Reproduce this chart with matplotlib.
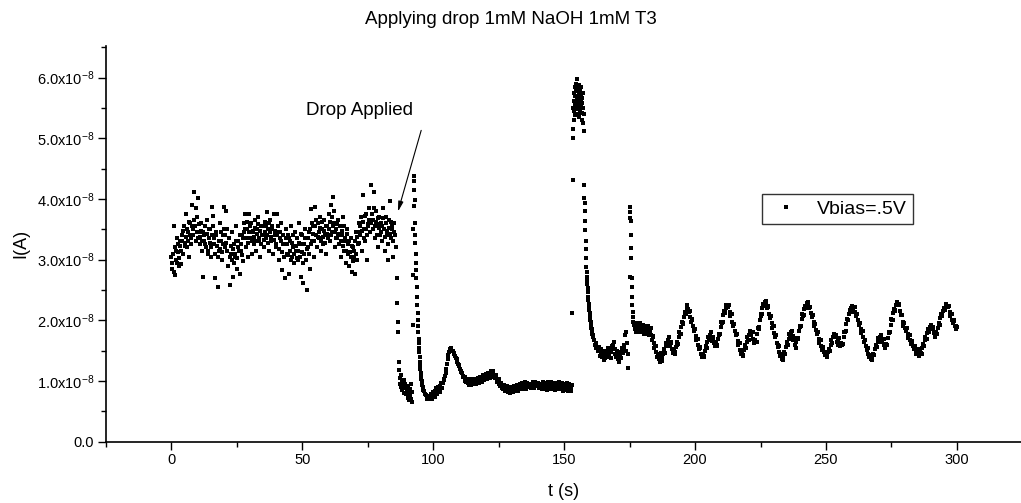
import numpy as np
import matplotlib
matplotlib.use("Agg")
import matplotlib.pyplot as plt
from matplotlib.ticker import MultipleLocator, FuncFormatter

plt.rcParams['font.family'] = ['Liberation Sans', 'DejaVu Sans']
plt.rcParams['mathtext.fontset'] = 'custom'
plt.rcParams['mathtext.rm'] = 'Liberation Sans'
plt.rcParams['mathtext.it'] = 'Liberation Sans:italic'

# ---------------- data (current in units of 1e-8 A) ----------------
UNIT = 1e-8

# baseline noise before the drop, t0=0, dt=0.4 s
noise_t0, noise_dt = 0.0, 0.4
noise_I = [
    3.05, 2.85, 3.56, 2.75, 3.15, 2.95, 3.25, 3.02, 3.30, 2.92,
    3.40, 3.10, 3.55, 3.28, 3.76, 3.20, 3.45, 3.05, 3.60, 3.35,
    3.90, 3.50, 4.12, 3.30, 3.70, 4.02, 3.45, 3.25, 3.60, 3.15,
    2.72, 3.40, 3.55, 3.20, 3.65, 3.10, 3.35, 3.50, 3.05, 3.86,
    3.72, 3.25, 2.69, 3.45, 2.55, 3.15, 3.60, 3.30, 3.00, 3.40,
    3.87, 3.20, 3.80, 3.50, 2.90, 3.35, 2.58, 3.10, 3.45, 2.72,
    3.25, 3.05, 3.55, 2.85, 3.30, 2.77, 3.15, 3.40, 2.97, 3.60,
    3.76, 3.20, 3.50, 3.05, 3.76, 3.35, 3.60, 3.10, 3.45, 3.25,
    3.65, 3.15, 3.50, 3.70, 3.30, 3.05, 3.55, 3.40, 3.20, 3.62,
    3.35, 3.79, 3.50, 3.15, 3.65, 3.30, 3.55, 3.10, 3.75, 3.40,
    3.20, 3.76, 3.45, 3.00, 3.35, 3.60, 2.83, 3.25, 2.69, 3.50,
    3.10, 3.40, 2.77, 3.30, 3.55, 3.05, 3.20, 2.95, 3.45, 3.15,
    3.35, 3.00, 3.60, 3.25, 2.72, 3.40, 2.61, 3.10, 3.50, 2.50,
    3.20, 3.45, 2.85, 3.84, 3.30, 3.55, 3.05, 3.87, 3.40, 3.20,
    3.60, 3.35, 3.70, 3.15, 3.50, 3.25, 3.65, 3.40, 3.10, 3.55,
    3.75, 3.30, 3.90, 3.45, 4.04, 3.60, 3.20, 3.50, 3.35, 3.65,
    3.25, 3.55, 3.05, 3.40, 3.70, 3.15, 3.30, 2.95, 3.50, 3.10,
    2.90, 3.35, 2.80, 3.20, 3.05, 2.77, 3.45, 3.00, 3.25, 3.60,
    3.40, 3.70, 3.15, 4.06, 3.50, 3.30, 3.75, 3.00, 3.55, 3.85,
    3.45, 4.23, 3.65, 4.12, 3.35, 3.80, 3.55, 3.20, 3.70, 3.40,
    3.60, 3.30, 3.85, 3.50, 3.15, 3.70, 3.40, 3.00, 3.65, 3.97,
    3.35, 3.55, 3.05, 3.45, 3.20,
]
# interleaved noise samples, t0=0.2, dt=0.4 s
noise2_t0, noise2_dt = 0.2, 0.4
noise2_I = [
    2.95, 3.10, 2.80, 3.20, 3.00, 3.35, 3.12, 2.90, 3.22, 3.15,
    3.30, 3.48, 3.22, 3.38, 3.50, 3.30, 3.62, 3.40, 3.25, 3.55,
    3.40, 3.65, 3.55, 3.85, 3.45, 3.35, 3.58, 3.38, 3.48, 3.30,
    3.45, 3.30, 3.25, 3.42, 3.15, 3.50, 3.28, 3.20, 3.40, 3.55,
    3.35, 3.10, 3.40, 3.22, 3.05, 3.30, 3.18, 3.45, 3.12, 3.25,
    3.50, 3.40, 3.28, 3.15, 3.35, 3.05, 3.22, 3.00, 3.18, 2.95,
    3.10, 3.30, 3.02, 3.20, 3.15, 3.40, 3.25, 3.08, 3.35, 3.45,
    3.50, 3.35, 3.62, 3.28, 3.45, 3.55, 3.30, 3.48, 3.38, 3.52,
    3.30, 3.42, 3.58, 3.35, 3.48, 3.25, 3.40, 3.55, 3.32, 3.45,
    3.55, 3.40, 3.28, 3.60, 3.45, 3.38, 3.50, 3.32, 3.48, 3.25,
    3.40, 3.55, 3.18, 3.45, 3.30, 3.12, 3.40, 3.05, 3.25, 3.35,
    3.25, 3.08, 3.35, 3.15, 3.00, 3.28, 3.40, 3.10, 3.22, 3.02,
    3.15, 3.28, 3.05, 3.42, 3.12, 2.95, 3.25, 3.35, 3.00, 3.18,
    3.35, 3.10, 3.50, 3.25, 3.60, 3.42, 3.30, 3.55, 3.65, 3.38,
    3.45, 3.52, 3.30, 3.62, 3.38, 3.48, 3.28, 3.55, 3.42, 3.35,
    3.50, 3.62, 3.40, 3.70, 3.55, 3.80, 3.45, 3.35, 3.58, 3.42,
    3.40, 3.30, 3.48, 3.22, 3.55, 3.35, 3.15, 3.42, 3.25, 3.30,
    3.12, 3.05, 3.22, 2.98, 3.15, 3.30, 3.10, 3.38, 3.45, 3.28,
    3.55, 3.48, 3.62, 3.35, 3.72, 3.50, 3.40, 3.58, 3.65, 3.45,
    3.60, 3.75, 3.50, 3.85, 3.55, 3.62, 3.40, 3.68, 3.52, 3.58,
    3.45, 3.55, 3.68, 3.38, 3.60, 3.48, 3.25, 3.52, 3.42, 3.62,
    3.50, 3.30, 3.60, 3.40,
]

# drop applied, t0=86.0, dt=0.2
drop_t0, drop_dt = 86.0, 0.2
drop_I = [2.69, 2.28, 1.98, 1.81, 1.32, 1.18]

# low cluster after drop, t0=87.2, dt=0.2
low_t0, low_dt = 87.2, 0.2
low_I = [1.05, 0.95, 1.10, 0.90, 1.00, 0.85, 0.98, 0.92, 0.80, 1.02,
         0.88, 0.95, 0.78, 0.90, 0.85, 0.72, 0.92, 0.80, 0.68, 0.86,
         0.75, 0.95, 0.70, 0.82, 0.66]

# second spike, t0=92.2, dt=0.1
spike2_t0, spike2_dt = 92.2, 0.1
spike2_I = [1.92, 2.75, 3.50, 3.88, 4.15, 4.37, 4.30, 3.98, 3.60, 3.40,
            3.27, 3.10, 2.95, 2.83, 2.70, 2.55, 2.39, 2.25, 2.12, 2.00,
            1.90, 1.80, 1.70, 1.62, 1.55, 1.47, 1.40, 1.32, 1.25, 1.19,
            1.14, 1.10, 1.06, 1.03, 1.00, 0.97, 0.94]

# recovery and flat part, t0=96.0, dt=0.5
recov_t0, recov_dt = 96.0, 0.5
recov_I = [
    0.90, 0.83, 0.79, 0.72, 0.74, 0.70, 0.78, 0.71, 0.82, 0.74,
    0.88, 0.78, 0.90, 0.82, 0.96, 0.88, 1.02, 1.08, 1.20, 1.36,
    1.48, 1.53, 1.50, 1.49, 1.45, 1.41, 1.36, 1.28, 1.25, 1.16,
    1.14, 1.06, 1.06, 0.98,
    1.04, 0.94, 1.03, 0.94, 1.04, 0.95, 1.04, 0.95, 1.05, 0.96,
    1.07, 0.98, 1.10, 1.01, 1.12, 1.03, 1.14, 1.05, 1.16, 1.07,
    1.16, 1.05, 1.10, 0.98, 1.03, 0.91, 0.97, 0.87, 0.93, 0.84,
    0.92, 0.82, 0.90, 0.81, 0.90, 0.82, 0.91, 0.83, 0.94, 0.84,
    0.95, 0.86, 0.97, 0.87, 0.98, 0.87, 0.97, 0.90, 0.95, 0.89,
    0.99, 0.88, 0.99, 0.91, 0.96, 0.88, 0.95, 0.87, 0.99, 0.87,
    0.97, 0.85, 0.98, 0.87, 0.99, 0.86, 0.96, 0.85, 0.97, 0.86,
    0.98, 0.86, 0.96, 0.84, 0.95, 0.85, 0.97, 0.84, 0.95, 0.84,
    0.93,
]
# interleaved recovery samples, t0=96.25, dt=0.5
recov2_t0, recov2_dt = 96.25, 0.5
recov2_I = [
    0.85, 0.78, 0.77, 0.71, 0.76, 0.73, 0.72, 0.78, 0.76, 0.83,
    0.80, 0.86, 0.84, 0.91, 0.89, 0.96, 1.03, 1.14, 1.28, 1.43,
    1.52, 1.54, 1.49, 1.46, 1.42, 1.38, 1.31, 1.27, 1.19, 1.15,
    1.09, 1.07, 1.00, 1.01,
    0.97, 1.01, 0.96, 1.01, 0.97, 1.02, 0.98, 1.03, 0.99, 1.04,
    1.01, 1.06, 1.04, 1.09, 1.06, 1.11, 1.08, 1.13, 1.10, 1.14,
    1.09, 1.10, 1.02, 1.03, 0.95, 0.96, 0.89, 0.92, 0.86, 0.89,
    0.84, 0.88, 0.83, 0.87, 0.84, 0.88, 0.85, 0.90, 0.87, 0.92,
    0.88, 0.94, 0.89, 0.95, 0.90, 0.94, 0.92, 0.93, 0.91, 0.95,
    0.92, 0.96, 0.93, 0.95, 0.90, 0.93, 0.90, 0.94, 0.91, 0.94,
    0.89, 0.93, 0.90, 0.95, 0.90, 0.93, 0.88, 0.93, 0.89, 0.94,
    0.90, 0.93, 0.88, 0.92, 0.88, 0.93, 0.88, 0.92, 0.87, 0.90,
]

# big spike, t0=153.1, dt=0.1
spike3_t0, spike3_dt = 153.1, 0.1
spike3_I = [
    2.12, 4.31, 5.01, 5.16,
    5.50, 5.62, 5.30, 5.75, 5.45, 5.85, 5.55, 5.38, 5.70, 5.60,
    5.90, 5.48, 5.78, 5.97, 5.65, 5.52, 5.82, 5.40, 5.70, 5.58,
    5.88, 5.62, 5.35, 5.75, 5.50, 5.68, 5.80, 5.45, 5.60, 5.72,
    5.55, 5.85, 5.42, 5.66, 5.30, 5.58, 5.75, 5.25, 5.50, 5.40,
    5.12, 4.23, 4.01, 3.93, 3.80, 3.63, 3.49, 3.30, 3.17, 3.02,
    2.88, 2.80, 2.72, 2.67, 2.60, 2.53, 2.46, 2.39, 2.33, 2.27,
    2.22, 2.17, 2.12, 2.08, 2.04, 2.00, 1.97, 1.94, 1.91, 1.88,
    1.85, 1.83, 1.80, 1.78, 1.76, 1.74, 1.72,
]

# after big spike, t0=161.5, dt=0.5
mid_t0, mid_dt = 161.5, 0.5
mid_I = [1.68, 1.62, 1.56, 1.52, 1.49, 1.45, 1.40, 1.48, 1.38, 1.45,
         1.50, 1.42, 1.55, 1.47, 1.60, 1.65, 1.52, 1.45, 1.38, 1.32,
         1.42, 1.50, 1.46, 1.56, 1.81, 1.62, 1.22]
mid2_t0, mid2_dt = 161.75, 0.5
mid2_I = [1.60, 1.55, 1.50, 1.56, 1.42, 1.52, 1.44, 1.35, 1.50, 1.40,
          1.55, 1.48, 1.38, 1.58, 1.52, 1.45, 1.40, 1.50, 1.36, 1.48,
          1.38, 1.55, 1.60, 1.75, 1.50, 1.45]

# third spike, t0=175.0, dt=0.1
spike4_t0, spike4_dt = 175.0, 0.1
spike4_I = [2.72, 3.87, 3.79, 3.68, 3.63, 3.41, 3.19, 3.02, 2.69, 2.55,
            2.39, 2.25, 2.14, 2.05, 1.97, 1.92]

# oscillating part, t0=177.0, dt=0.5
osc_t0, osc_dt = 177.0, 0.5
osc_I = [
    1.96, 1.80, 1.95, 1.80, 1.95, 1.80, 1.93, 1.77, 1.91, 1.77,
    1.91, 1.75, 1.87, 1.68, 1.74, 1.55, 1.58, 1.40, 1.45, 1.32,
    1.46, 1.33, 1.53, 1.46, 1.63, 1.58, 1.73, 1.59, 1.64, 1.46,
    1.52, 1.44, 1.64, 1.61, 1.80, 1.77, 1.98, 1.95, 2.13, 2.11,
    2.26, 2.13, 2.15, 1.97, 2.02, 1.83, 1.86, 1.67, 1.70, 1.52,
    1.56, 1.40, 1.45, 1.39, 1.58, 1.55, 1.72, 1.67, 1.81, 1.66,
    1.72, 1.57, 1.65, 1.57, 1.78, 1.77, 1.97, 1.97, 2.15, 2.13,
    2.26, 2.22, 2.25, 2.07, 2.10, 1.91, 1.94, 1.75, 1.78, 1.59,
    1.62, 1.44, 1.49, 1.41, 1.59, 1.55, 1.72, 1.67, 1.82, 1.76,
    1.81, 1.62, 1.67, 1.65, 1.88, 1.89, 2.10, 2.10, 2.27, 2.24,
    2.32, 2.20, 2.22, 2.04, 2.07, 1.88, 1.91, 1.72, 1.75, 1.56,
    1.58, 1.41, 1.44, 1.34, 1.47, 1.45, 1.64, 1.60, 1.77, 1.72,
    1.83, 1.67, 1.68, 1.54, 1.71, 1.71, 1.91, 1.91, 2.10, 2.09,
    2.24, 2.21, 2.30, 2.20, 2.22, 2.05, 2.08, 1.91, 1.94, 1.77,
    1.80, 1.63, 1.67, 1.51, 1.56, 1.43, 1.48, 1.40, 1.52, 1.50,
    1.67, 1.63, 1.78, 1.72, 1.74, 1.59, 1.71, 1.57, 1.61, 1.61,
    1.81, 1.82, 2.02, 2.01, 2.17, 2.14, 2.24, 2.20, 2.22, 2.07,
    2.10, 1.93, 1.96, 1.79, 1.82, 1.65, 1.68, 1.51, 1.55, 1.39,
    1.43, 1.34, 1.45, 1.43, 1.60, 1.56, 1.71, 1.65, 1.76, 1.65,
    1.69, 1.55, 1.61, 1.59, 1.80, 1.81, 2.02, 2.01, 2.19, 2.17,
    2.30, 2.25, 2.26, 2.08, 2.08, 1.91, 1.96, 1.83, 1.87, 1.71,
    1.76, 1.61, 1.66, 1.52, 1.58, 1.45, 1.52, 1.42, 1.50, 1.45,
    1.61, 1.57, 1.73, 1.69, 1.85, 1.80, 1.93, 1.86, 1.88, 1.73,
    1.80, 1.77, 1.95, 1.93, 2.10, 2.08, 2.21, 2.17, 2.27, 2.22,
    2.24, 2.07, 2.11, 1.95, 2.00, 1.85, 1.89,
]
# interleaved oscillation samples, t0=177.25, dt=0.5
osc2_t0, osc2_dt = 177.25, 0.5
osc2_I = [
    1.86, 1.90, 1.86, 1.89, 1.85, 1.88, 1.84, 1.87, 1.83, 1.86,
    1.81, 1.83, 1.76, 1.73, 1.62, 1.58, 1.47, 1.45, 1.36, 1.40,
    1.38, 1.44, 1.48, 1.57, 1.59, 1.67, 1.64, 1.63, 1.53, 1.51,
    1.47, 1.56, 1.60, 1.72, 1.77, 1.89, 1.94, 2.06, 2.10, 2.21,
    2.18, 2.15, 2.05, 2.01, 1.90, 1.86, 1.74, 1.70, 1.59, 1.55,
    1.45, 1.44, 1.41, 1.50, 1.54, 1.65, 1.67, 1.76, 1.73, 1.71,
    1.62, 1.62, 1.59, 1.69, 1.75, 1.89, 1.95, 2.08, 2.12, 2.21,
    2.22, 2.25, 2.14, 2.10, 1.98, 1.94, 1.82, 1.78, 1.66, 1.62,
    1.51, 1.48, 1.43, 1.51, 1.55, 1.65, 1.67, 1.76, 1.77, 1.80,
    1.70, 1.67, 1.64, 1.78, 1.86, 2.01, 2.07, 2.20, 2.23, 2.31,
    2.26, 2.23, 2.11, 2.07, 1.95, 1.91, 1.79, 1.75, 1.63, 1.59,
    1.48, 1.45, 1.37, 1.41, 1.44, 1.56, 1.60, 1.70, 1.73, 1.80,
    1.74, 1.69, 1.59, 1.64, 1.69, 1.83, 1.89, 2.02, 2.07, 2.18,
    2.21, 2.28, 2.24, 2.22, 2.12, 2.08, 1.98, 1.94, 1.84, 1.80,
    1.70, 1.67, 1.57, 1.55, 1.47, 1.47, 1.42, 1.47, 1.50, 1.60,
    1.63, 1.72, 1.73, 1.75, 1.65, 1.67, 1.62, 1.62, 1.60, 1.72,
    1.80, 1.94, 2.00, 2.11, 2.14, 2.21, 2.20, 2.22, 2.13, 2.10,
    2.00, 1.96, 1.86, 1.82, 1.72, 1.68, 1.58, 1.55, 1.45, 1.43,
    1.36, 1.41, 1.43, 1.53, 1.56, 1.65, 1.66, 1.73, 1.70, 1.69,
    1.60, 1.60, 1.59, 1.71, 1.79, 1.93, 2.00, 2.12, 2.16, 2.25,
    2.25, 2.27, 2.15, 2.09, 1.98, 1.95, 1.88, 1.87, 1.77, 1.75,
    1.67, 1.65, 1.57, 1.57, 1.50, 1.51, 1.45, 1.48, 1.46, 1.55,
    1.57, 1.67, 1.69, 1.79, 1.81, 1.89, 1.88, 1.89, 1.79, 1.79,
    1.77, 1.88, 1.92, 2.03, 2.07, 2.16, 2.17, 2.24, 2.23, 2.24,
    2.14, 2.11, 2.01, 1.99, 1.91, 1.90,
]

segments = [
    (noise_t0, noise_dt, noise_I),
    (noise2_t0, noise2_dt, noise2_I),
    (drop_t0, drop_dt, drop_I),
    (low_t0, low_dt, low_I),
    (spike2_t0, spike2_dt, spike2_I),
    (recov_t0, recov_dt, recov_I),
    (recov2_t0, recov2_dt, recov2_I),
    (spike3_t0, spike3_dt, spike3_I),
    (mid_t0, mid_dt, mid_I),
    (mid2_t0, mid2_dt, mid2_I),
    (spike4_t0, spike4_dt, spike4_I),
    (osc_t0, osc_dt, osc_I),
    (osc2_t0, osc2_dt, osc2_I),
]

t_all = np.concatenate([t0 + dt * np.arange(len(v)) for t0, dt, v in segments])
I_all = np.concatenate([np.asarray(v, dtype=float) for _, _, v in segments]) * UNIT
order = np.argsort(t_all, kind='stable')
t_all, I_all = t_all[order], I_all[order]

title = "Applying drop 1mM NaOH 1mM T3"
xlabel = "t (s)"
ylabel = "I(A)"
legend_label = "Vbias=.5V"
annot_text = "Drop Applied"
xticks = [0, 50, 100, 150, 200, 250, 300]

# ---------------- figure ----------------
fig = plt.figure(figsize=(10.21, 5.03), dpi=100)
ax = fig.add_axes([0.1038, 0.1219, 1.0 - 0.1038, 0.7866])

ax.plot(t_all, I_all, linestyle='none', marker='s', markersize=3.5,
        markeredgewidth=0, color='black', label=legend_label)

ax.set_xlim(-25, 324.5)
ax.set_ylim(0, 6.52e-8)

ax.set_xticks(xticks)
ax.xaxis.set_minor_locator(MultipleLocator(25))
ax.yaxis.set_major_locator(MultipleLocator(1e-8))
ax.yaxis.set_minor_locator(MultipleLocator(0.5e-8))


def yfmt(v, pos):
    m = v / 1e-8
    if abs(m) < 1e-9:
        return "0.0"
    return "%.1fx10$^{-8}$" % m


ax.yaxis.set_major_formatter(FuncFormatter(yfmt))

for side in ('top', 'right'):
    ax.spines[side].set_visible(False)
for side in ('left', 'bottom'):
    ax.spines[side].set_linewidth(1.2)

ax.tick_params(axis='both', which='major', direction='out', length=5.5,
               width=1.0, labelsize=10.5, pad=3)
ax.tick_params(axis='both', which='minor', direction='out', length=3.5,
               width=1.0)

ax.set_xlabel(xlabel, fontsize=13, labelpad=11.5)
ax.set_ylabel(ylabel, fontsize=13, labelpad=5)

fig.text(0.5, 1 - 19 / 503, title, ha='center', va='center', fontsize=13.5)

ax.text(71.9, 5.45e-8, annot_text, ha='center', va='center', fontsize=13.5)
ax.annotate('', xy=(86.5, 3.79e-8), xytext=(95.4, 5.13e-8),
            arrowprops=dict(arrowstyle='-|>,head_length=0.6,head_width=0.15',
                            color='black', lw=0.8, shrinkA=0, shrinkB=0))

leg = ax.legend(loc='upper left', bbox_to_anchor=(0.717, 0.626),
                borderaxespad=0, fontsize=14, frameon=True, fancybox=False,
                edgecolor='black', handlelength=1.85, handletextpad=0.63,
                borderpad=0.32, markerscale=0.9)
leg.get_frame().set_linewidth(1.0)

fig.savefig("out.png", dpi=100)
